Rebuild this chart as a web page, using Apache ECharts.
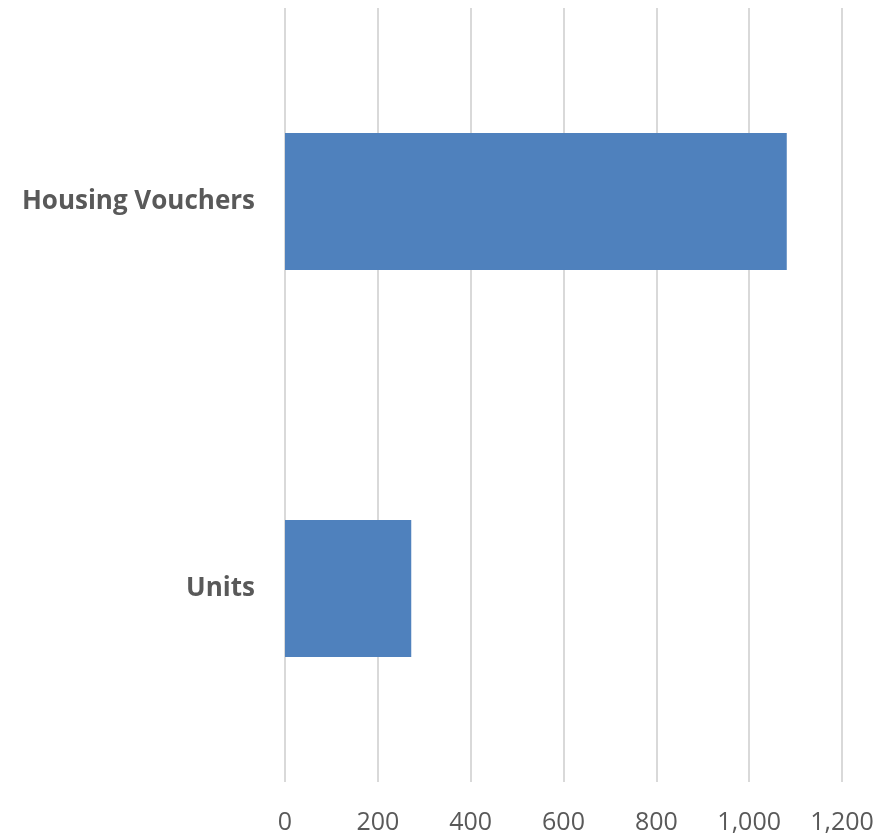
<!DOCTYPE html>
<html>
<head>
<meta charset="utf-8">
<script src="https://cdn.jsdelivr.net/npm/echarts@6/dist/echarts.min.js"></script>
<style>
  html, body { margin: 0; padding: 0; background: #fff; }
  #chart { width: 894px; height: 839px; }
</style>
</head>
<body>
<div id="chart"></div>
<script>
// categorias de abajo hacia arriba
const categorias = ['Units', 'Housing Vouchers'];
const valores = [272, 1081];

const myChart = echarts.init(document.getElementById('chart'));

const option = {
    animation: false,
    grid: { left: 285, right: 52, top: 8, bottom: 57 },
    xAxis: {
        type: 'value',
        min: 0,
        max: 1200,
        interval: 200,
        axisLine: { show: false },
        axisTick: { show: false },
        splitLine: { lineStyle: { color: '#d9d9d9', width: 2 } },
        axisLabel: {
            color: '#595959',
            fontSize: 25,
            fontFamily: 'Open Sans',
            margin: 28,
            formatter: v => v.toLocaleString('en-US')
        }
    },
    yAxis: {
        type: 'category',
        data: categorias,
        axisLine: { show: false },
        axisTick: { show: false },
        axisLabel: {
            color: '#595959',
            fontSize: 26,
            fontWeight: 'bold',
            fontFamily: 'Open Sans',
            margin: 30
        }
    },
    series: [
        {
            type: 'bar',
            data: valores,
            barWidth: 137,
            itemStyle: { color: '#4f81bd' }
        }
    ]
};

myChart.setOption(option);
</script>
</body>
</html>
